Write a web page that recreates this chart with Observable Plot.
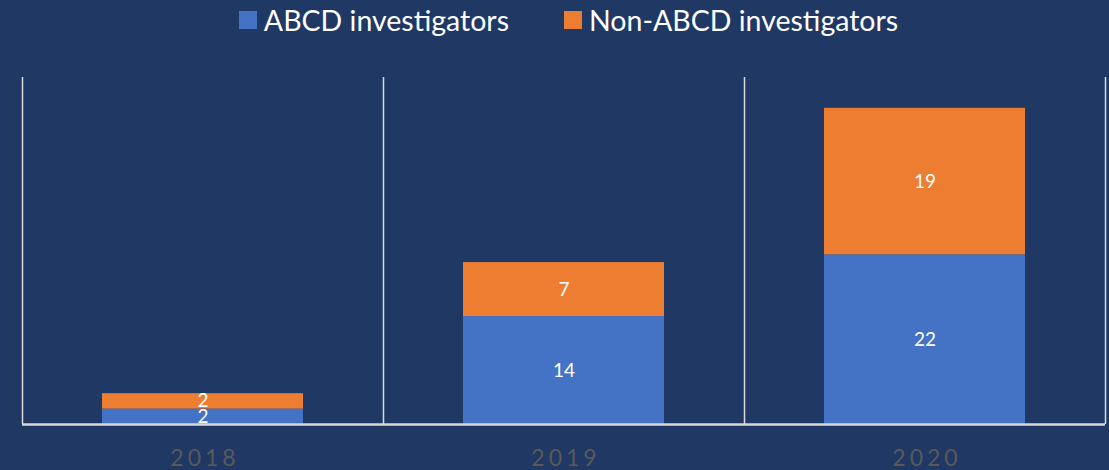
<!DOCTYPE html>
<html>
<head>
<meta charset="utf-8">
<script src="https://cdn.jsdelivr.net/npm/d3@7"></script>
<script src="https://cdn.jsdelivr.net/npm/@observablehq/plot@0.6"></script>
<style>
  html, body { margin: 0; padding: 0; background: #203864; }
  #wrap { width: 1109px; height: 470px; background: #203864; font-family: Lato, "Open Sans", sans-serif; }
  #legend { height: 40px; display: flex; justify-content: center; align-items: center; color: #ffffff; font-size: 28.5px; padding-left: 28px; }
  .item { display: flex; align-items: center; }
  .sw { width: 18px; height: 18px; margin-right: 7px; }
  .item + .item { margin-left: 55px; }
  svg text { font-family: Lato, "Open Sans", sans-serif; }
  g[aria-label="x-axis tick label"] text { letter-spacing: 4px; }
</style>
</head>
<body>
<div id="wrap">
  <div id="legend"></div>
  <div id="chart"></div>
</div>
<script>
const years = ["2018", "2019", "2020"];
const seriesNames = ["ABCD investigators", "Non-ABCD investigators"];
const abcd = [2, 14, 22];
const nonAbcd = [2, 7, 19];
const colors = ["#4472C4", "#ED7D31"];

const data = [];
years.forEach((y, i) => {
  data.push({year: y, series: seriesNames[0], value: abcd[i]});
  data.push({year: y, series: seriesNames[1], value: nonAbcd[i]});
});

const legend = document.getElementById("legend");
seriesNames.forEach((s, i) => {
  const it = document.createElement("div");
  it.className = "item";
  const sw = document.createElement("span");
  sw.className = "sw";
  sw.style.background = colors[i];
  const t = document.createElement("span");
  t.textContent = s;
  it.appendChild(sw); it.appendChild(t);
  legend.appendChild(it);
});

const W = 1109, H = 430;
const marginLeft = 22, marginRight = 4;
const step = (W - marginLeft - marginRight) / years.length;

const chart = Plot.plot({
  width: W,
  height: H,
  marginTop: 37,
  marginBottom: 46,
  marginLeft,
  marginRight,
  style: {background: "#203864", color: "#ffffff"},
  x: {domain: years, paddingInner: 0.443, paddingOuter: 0.2215, label: null},
  y: {domain: [0, 45], axis: null},
  color: {domain: seriesNames, range: colors},
  marks: [
    Plot.ruleX(years, {x: d => d, dx: -step / 2, stroke: "#D9D9D9", strokeWidth: 1.5}),
    Plot.ruleX([years[years.length - 1]], {x: d => d, dx: step / 2, stroke: "#D9D9D9", strokeWidth: 1.5}),
    Plot.barY(data, {x: "year", y: "value", fill: "series", order: seriesNames}),
    Plot.ruleY([0], {stroke: "#D9D9D9", strokeWidth: 2.5}),
    Plot.text(data, Plot.stackY({x: "year", y: "value", z: "series", order: seriesNames, text: d => String(d.value), fill: "#ffffff", fontSize: 19})),
    Plot.axisX({tickSize: 0, tickPadding: 25, fontSize: 23, fill: "#595959", dx: 2})
  ]
});
document.getElementById("chart").appendChild(chart);
</script>
</body>
</html>
